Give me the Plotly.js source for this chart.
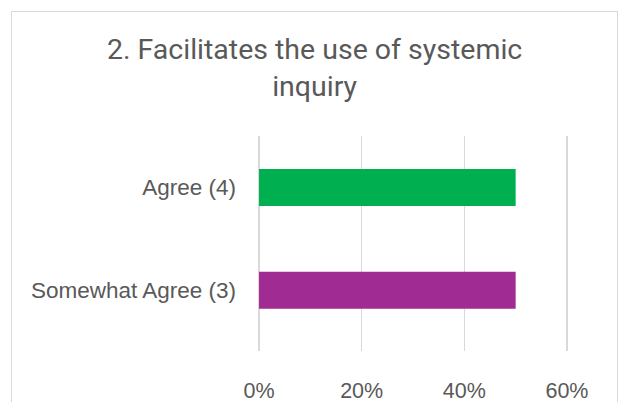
<!DOCTYPE html>
<html><head><meta charset="utf-8">
<script src="https://cdn.plot.ly/plotly-3.0.1.min.js"></script>
<style>
html,body{margin:0;padding:0;background:#fff;overflow:hidden;}
#frame{position:absolute;left:11px;top:11px;width:607px;height:400px;border:1.5px solid #d9d9d9;box-sizing:border-box;}
#chart{position:absolute;left:0;top:0;width:633px;height:402px;}
</style></head>
<body>
<div id="frame"></div>
<div id="chart"></div>
<script>
var categories = ["Somewhat Agree (3)", "Agree (4)"];
var values = [0.5, 0.5];
var colors = ["#A02B93", "#00B050"];
var tickVals = [0, 0.2, 0.4, 0.6];
var tickText = ["0%", "20%", "40%", "60%"];
var titleText = "2. Facilitates the use of systemic<br>inquiry";

Plotly.newPlot("chart", [{
  type: "bar", orientation: "h",
  y: categories, x: values,
  marker: {color: colors},
  width: 0.36, hoverinfo: "none"
}], {
  width: 633, height: 402,
  paper_bgcolor: "rgba(0,0,0,0)", plot_bgcolor: "rgba(0,0,0,0)",
  margin: {l: 258, r: 65, t: 136, b: 51},
  title: {text: titleText, x: 0.497, xref: "container", xanchor: "center", y: 0.853, yanchor: "top",
          font: {family: "Roboto, 'Open Sans', sans-serif", size: 28.5, color: "#595959"}},
  xaxis: {range: [-0.002, 0.602], tickvals: tickVals, ticktext: tickText, showgrid: true,
          gridcolor: "#d9d9d9", gridwidth: 1.5, zeroline: false, showline: false,
          ticks: "", ticklabelstandoff: 24,
          tickfont: {family: "Liberation Sans, Arial, sans-serif", size: 21.5, color: "#595959"}},
  yaxis: {range: [-0.59, 1.5], showgrid: false, zeroline: false, showline: false,
          ticks: "", ticklabelstandoff: 21,
          tickfont: {family: "Liberation Sans, Arial, sans-serif", size: 22.5, color: "#595959"}},
  showlegend: false
}, {staticPlot: true});
</script>
</body></html>
